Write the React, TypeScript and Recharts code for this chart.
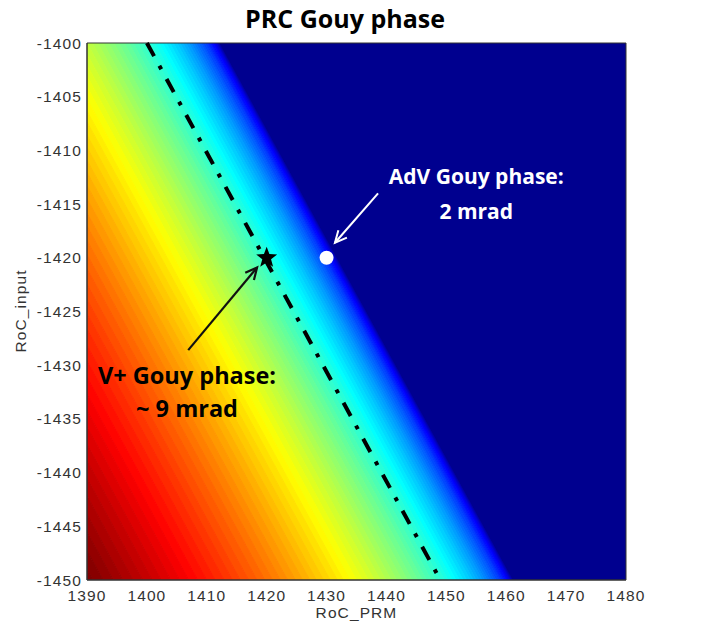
import React from 'react';
import { ComposedChart, Area, XAxis, YAxis, ReferenceLine, ReferenceDot, ReferenceArea } from 'recharts';

// ---- axes ----
const X_DOMAIN = [1390, 1480];
const Y_DOMAIN = [-1450, -1400];
const X_TICKS = [1390, 1400, 1410, 1420, 1430, 1440, 1450, 1460, 1470, 1480];
const Y_TICKS = [-1450, -1445, -1440, -1435, -1430, -1425, -1420, -1415, -1410, -1405, -1400];
const CBAR_TICKS = [0, 0.002, 0.004, 0.006, 0.008, 0.01, 0.012, 0.014, 0.016, 0.018, 0.02];
const CBAR_MAX = 0.0207;
const CBAR_STEPS = 64;

// ---- contour field ----
// contour level spacing (rad) and where each level crosses the bottom edge (RoC_input = -1450)
const LEVEL_STEP = 0.00025;
const LEVEL_X_AT_BOTTOM = [
  1461.0, 1461.0, 1461.0, 1460.9, 1460.8, 1460.7, 1460.6, 1460.5, 1460.3, 1460.2,
  1460.0, 1459.7, 1459.5, 1459.2, 1459.0, 1458.7, 1458.3, 1458.0, 1457.6, 1457.2,
  1456.8, 1456.4, 1456.0, 1455.5, 1455.0, 1454.5, 1454.0, 1453.4, 1452.8, 1452.2,
  1451.6, 1451.0, 1450.3, 1449.7, 1449.0, 1448.2, 1447.5, 1446.7, 1446.0, 1445.2,
  1444.3, 1443.5, 1442.6, 1441.7, 1440.8, 1439.9, 1439.0, 1438.0, 1437.0, 1436.0,
  1435.0, 1433.9, 1432.8, 1431.8, 1430.6, 1429.5, 1428.3, 1427.2, 1426.0, 1424.8,
  1423.5, 1422.3, 1421.0, 1419.7, 1418.4, 1417.0, 1415.6, 1414.3, 1412.9, 1411.4,
  1410.0, 1408.5, 1407.0, 1405.5, 1404.0, 1402.4, 1400.9, 1399.3, 1397.7, 1396.0,
  1394.4, 1392.7, 1391.0, 1389.3, 1387.5,
];
// contours shift this far in RoC_PRM between RoC_input -1450 and -1400
const CONTOUR_SHIFT = 49;
const X_SAMPLES = [1390, 1480];

// ---- annotations ----
const DASH_LINE = [{ x: 1400, y: -1400 }, { x: 1449, y: -1450 }];
const V_PLUS_POINT = { x: 1420, y: -1420 };
const ADV_POINT = { x: 1430, y: -1420 };
const ARROW_BLACK = [{ x: 1406.9, y: -1428.6 }, { x: 1418.4, y: -1420.9 }];
const ARROW_WHITE = [{ x: 1438.6, y: -1414.0 }, { x: 1431.4, y: -1418.6 }];
const LABEL_VPLUS = { x: 1406.7, y: -1430.9, lines: ['V+ Gouy phase:', '~ 9 mrad'] };
const LABEL_ADV = { x: 1455.0, y: -1412.4, lines: ['AdV Gouy phase:', '2 mrad'] };

function jet(t: number): string {
  const c = (v: number) => Math.max(0, Math.min(1, v));
  const r = c(Math.min(4 * t - 1.5, -4 * t + 4.5));
  const g = c(Math.min(4 * t - 0.5, -4 * t + 3.5));
  const b = c(Math.min(4 * t + 0.5, -4 * t + 2.5));
  return `rgb(${Math.round(r * 255)},${Math.round(g * 255)},${Math.round(b * 255)})`;
}

const LEVELS = LEVEL_X_AT_BOTTOM.map((_, i) => i * LEVEL_STEP);
const yAt = (x: number, xb: number) => -1450 + ((xb - x) * 50) / CONTOUR_SHIFT;

const fieldRows = X_SAMPLES.map((x) => {
  const row: any = { x };
  row.zero = [yAt(x, LEVEL_X_AT_BOTTOM[0]), -1300];
  for (let k = 0; k < LEVELS.length - 1; k++) {
    row['b' + k] = [yAt(x, LEVEL_X_AT_BOTTOM[k + 1]), yAt(x, LEVEL_X_AT_BOTTOM[k])];
  }
  return row;
});

const bands = LEVELS.slice(0, -1).map((lv, k) => {
  const mid = (lv + LEVELS[k + 1]) / 2;
  return { key: 'b' + k, color: jet(Math.min(1, mid / CBAR_MAX + 0.5 / CBAR_STEPS)) };
});

const NAVY = jet(1 / CBAR_STEPS);
const FONT_AXIS = "'Liberation Sans', Arial, sans-serif";
const FONT_NOTE = "'Open Sans', Lato, sans-serif";
const TICK_STYLE = { fontSize: 15.5, fill: '#333', fontFamily: FONT_AXIS, letterSpacing: 1.1 };

const arrowShape = (color: string, width: number) => (p: any) => {
  const { x1, y1, x2, y2 } = p;
  const ang = Math.atan2(y2 - y1, x2 - x1);
  const L = 13;
  const a1 = ang + Math.PI - 0.45;
  const a2 = ang + Math.PI + 0.45;
  return (
    <g>
      <line x1={x1} y1={y1} x2={x2} y2={y2} stroke={color} strokeWidth={width} />
      <polyline
        points={`${x2 + L * Math.cos(a1)},${y2 + L * Math.sin(a1)} ${x2},${y2} ${x2 + L * Math.cos(a2)},${y2 + L * Math.sin(a2)}`}
        fill="none"
        stroke={color}
        strokeWidth={width}
      />
    </g>
  );
};

const starShape = (p: any) => {
  const { cx, cy } = p;
  const R = 11;
  const r = 4.6;
  const pts: string[] = [];
  for (let i = 0; i < 10; i++) {
    const rad = i % 2 === 0 ? R : r;
    const a = -Math.PI / 2 + (i * Math.PI) / 5;
    pts.push(`${cx + rad * Math.cos(a)},${cy + rad * Math.sin(a)}`);
  }
  return <polygon points={pts.join(' ')} fill="#000" />;
};

const dotShape = (p: any) => <circle cx={p.cx} cy={p.cy} r={7} fill="#fff" />;

const textShape = (lines: string[], color: string, size: number, gap: number) => (p: any) => (
  <text
    x={p.cx}
    y={p.cy}
    textAnchor="middle"
    fill={color}
    fontFamily={FONT_NOTE}
    fontWeight="bold"
    fontSize={size}
    dominantBaseline="central"
  >
    {lines.map((l, i) => (
      <tspan key={i} x={p.cx} dy={i === 0 ? 0 : gap}>
        {l}
      </tspan>
    ))}
  </text>
);

const cbarRows = [{ x: 0 }, { x: 1 }];
const cbarSteps = Array.from({ length: CBAR_STEPS }, (_, i) => i);

export default function App() {
  return (
    <div style={{ position: 'absolute', left: 0, top: 0, width: 726, height: 628, background: '#fff' }}>
      <div
        style={{
          position: 'absolute', left: 0, top: 0, width: 690, textAlign: 'center',
          fontFamily: FONT_NOTE, fontWeight: 'bold', fontSize: 25, lineHeight: '36px', color: '#000',
        }}
      >
        PRC Gouy phase
      </div>
      <ComposedChart
        width={726}
        height={628}
        data={fieldRows}
        margin={{ top: 43, right: 100, bottom: 18, left: 27 }}
        style={{ position: 'absolute', left: 0, top: 0 }}
      >
        <XAxis
          dataKey="x"
          type="number"
          domain={X_DOMAIN}
          ticks={X_TICKS}
          allowDataOverflow
          height={30}
          tickSize={0}
          tickMargin={10}
          tick={TICK_STYLE}
          axisLine={{ stroke: '#333' }}
        />
        <YAxis
          type="number"
          domain={Y_DOMAIN}
          ticks={Y_TICKS}
          allowDataOverflow
          width={60}
          tickSize={0}
          tickMargin={5}
          tick={TICK_STYLE}
          axisLine={{ stroke: '#333' }}
        />
        <Area
          dataKey="zero"
          type="linear"
          fill={NAVY}
          fillOpacity={1}
          stroke={NAVY}
          strokeWidth={1}
          dot={false}
          activeDot={false}
          isAnimationActive={false}
        />
        {bands.map((b) => (
          <Area
            key={b.key}
            dataKey={b.key}
            type="linear"
            fill={b.color}
            fillOpacity={1}
            stroke={b.color}
            strokeWidth={1}
            dot={false}
            activeDot={false}
            isAnimationActive={false}
          />
        ))}
        <ReferenceArea x1={X_DOMAIN[0]} x2={X_DOMAIN[1]} y1={Y_DOMAIN[0]} y2={Y_DOMAIN[1]} fill="none" stroke="#333" strokeWidth={1} />
        <ReferenceLine
          segment={DASH_LINE}
          stroke="#000"
          strokeWidth={4}
          strokeDasharray="15 11 4 11"
        />
        <ReferenceLine segment={ARROW_BLACK} shape={arrowShape('#111', 2.2)} />
        <ReferenceLine segment={ARROW_WHITE} shape={arrowShape('#fff', 2)} />
        <ReferenceDot x={V_PLUS_POINT.x} y={V_PLUS_POINT.y} shape={starShape} />
        <ReferenceDot x={ADV_POINT.x} y={ADV_POINT.y} shape={dotShape} />
        <ReferenceDot x={LABEL_VPLUS.x} y={LABEL_VPLUS.y} shape={textShape(LABEL_VPLUS.lines, '#000', 23.5, 33)} />
        <ReferenceDot x={LABEL_ADV.x} y={LABEL_ADV.y} shape={textShape(LABEL_ADV.lines, '#fff', 21, 35)} />
      </ComposedChart>
      <div
        style={{
          position: 'absolute', left: 0, top: 603, width: 713, textAlign: 'center',
          fontFamily: FONT_AXIS, fontSize: 15.5, letterSpacing: 1.1, color: '#333', lineHeight: '20px',
        }}
      >
        RoC_PRM
      </div>
      <div style={{ position: 'absolute', left: 21, top: 311, width: 0, height: 0 }}>
        <div
          style={{
            position: 'absolute', left: -60, top: -10, width: 120, textAlign: 'center',
            transform: 'rotate(-90deg)', fontFamily: FONT_AXIS, fontSize: 15.5, letterSpacing: 1.1,
            color: '#333', lineHeight: '20px',
          }}
        >
          RoC_input
        </div>
      </div>
      <ComposedChart
        width={86}
        height={628}
        data={cbarRows}
        margin={{ top: 42, right: 0, bottom: 46, left: 8 }}
        style={{ position: 'absolute', left: 640, top: 0 }}
      >
        <XAxis dataKey="x" type="number" domain={[0, 1]} hide />
        <YAxis
          type="number"
          orientation="right"
          domain={[0, CBAR_MAX]}
          ticks={CBAR_TICKS}
          width={48}
          tickSize={0}
          tickMargin={3}
          axisLine={false}
          tick={TICK_STYLE}
        />
        {cbarSteps.map((i) => (
          <ReferenceArea
            key={i}
            x1={0}
            x2={1}
            y1={(i * CBAR_MAX) / CBAR_STEPS}
            y2={((i + 1) * CBAR_MAX) / CBAR_STEPS}
            fill={jet((i + 1) / CBAR_STEPS)}
            fillOpacity={1}
            stroke="none"
          />
        ))}
        {CBAR_TICKS.map((v) => (
          <ReferenceLine key={'l' + v} segment={[{ x: 0, y: v }, { x: 0.15, y: v }]} stroke="#000" strokeWidth={1.5} />
        ))}
        {CBAR_TICKS.map((v) => (
          <ReferenceLine key={'r' + v} segment={[{ x: 0.85, y: v }, { x: 1, y: v }]} stroke="#000" strokeWidth={1.5} />
        ))}
        <ReferenceArea x1={0} x2={1} y1={0} y2={CBAR_MAX} fill="none" stroke="#333" strokeWidth={1} />
      </ComposedChart>
    </div>
  );
}
